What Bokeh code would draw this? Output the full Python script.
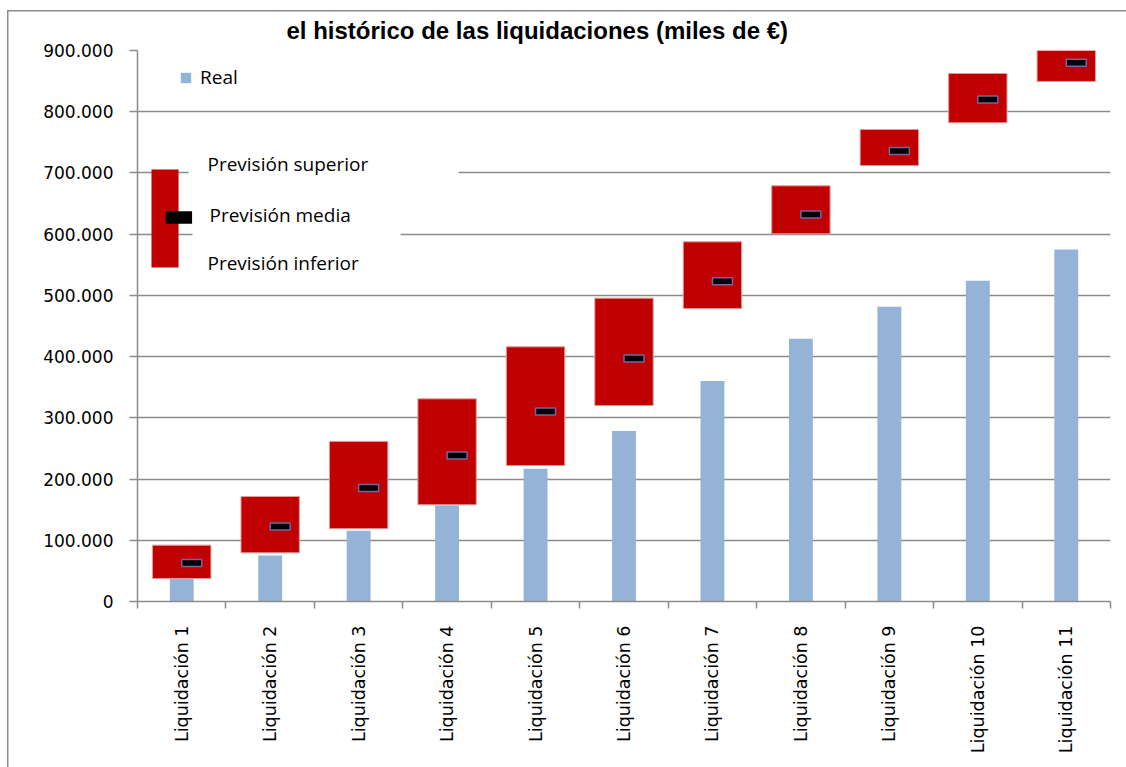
import math
from bokeh.plotting import figure
from bokeh.models import (Range1d, FixedTicker, ColumnDataSource, Legend, LegendItem,
                          Label, BoxAnnotation)
from bokeh.transform import dodge
from bokeh.embed import file_html
from bokeh.resources import INLINE

# ---------------- data ----------------
categories = ["Liquidación 1", "Liquidación 2", "Liquidación 3", "Liquidación 4",
              "Liquidación 5", "Liquidación 6", "Liquidación 7", "Liquidación 8",
              "Liquidación 9", "Liquidación 10", "Liquidación 11"]
real = [38000, 75000, 115500, 157000, 217000, 278500, 360000, 429000, 481500, 524000, 575000]
prevision_superior = [92000, 171500, 261500, 331000, 416000, 495500, 587500, 679000, 771000, 862500, 915000]
prevision_inferior = [37500, 79500, 119000, 158000, 222000, 320000, 478500, 600500, 712000, 782000, 849500]
prevision_media = [63000, 122500, 185500, 238500, 310500, 397000, 523000, 632000, 736000, 820000, 880000]
y_ticks = [0, 100000, 200000, 300000, 400000, 500000, 600000, 700000, 800000, 900000]
y_tick_labels = ["0", "100.000", "200.000", "300.000", "400.000", "500.000",
                 "600.000", "700.000", "800.000", "900.000"]
title_text = "el histórico de las liquidaciones (miles de €)"

GRID = "#8c8c8c"

x_centers = [i + 0.5 for i in range(len(categories))]
src = ColumnDataSource(dict(x=x_centers, real=real, sup=prevision_superior,
                            inf=prevision_inferior, media=prevision_media))

p = figure(width=1126, height=767, output_backend="svg", toolbar_location=None,
           x_range=Range1d(0, len(categories)), y_range=Range1d(0, 900000),
           min_border_left=137, min_border_right=16, min_border_top=50, min_border_bottom=166,
           border_fill_color=None, outline_line_color=None,
           title=title_text,
           styles={"background": "linear-gradient(#8c8c8c,#8c8c8c) 7px 10px / 1.5px 100% no-repeat, "
                                 "linear-gradient(#8c8c8c,#8c8c8c) 7px 10px / 100% 1.5px no-repeat, white"})

# title (cropped at the top in the reference, here fully visible)
p.title.align = "left"
p.title.offset = 149
p.title.vertical_align = "top"
p.title.standoff = 10
p.title.text_font = "Liberation Sans"
p.title.text_font_style = "bold"
p.title.text_font_size = "24px"
p.title.text_color = "black"
p.title.background_fill_color = "white"

# axes
p.yaxis.ticker = FixedTicker(ticks=y_ticks)
p.yaxis.major_label_overrides = {t: l for t, l in zip(y_ticks, y_tick_labels)}
p.yaxis.axis_line_color = GRID
p.yaxis.axis_line_width = 1.5
p.yaxis.major_tick_line_color = GRID
p.yaxis.major_tick_line_width = 1.5
p.yaxis.major_tick_out = 8
p.yaxis.major_tick_in = 0
p.yaxis.minor_tick_line_color = None
p.yaxis.major_label_standoff = 16
p.yaxis.major_label_text_font = "DejaVu Sans"
p.yaxis.major_label_text_font_size = "17px"
p.yaxis.major_label_text_color = "black"

p.xaxis.ticker = FixedTicker(ticks=x_centers, minor_ticks=list(range(len(categories) + 1)))
p.xaxis.major_label_overrides = {x: c for x, c in zip(x_centers, categories)}
p.xaxis.axis_line_color = GRID
p.xaxis.axis_line_width = 1.5
p.xaxis.major_tick_out = 0
p.xaxis.major_tick_in = 0
p.xaxis.major_tick_line_color = None
p.xaxis.minor_tick_out = 7
p.xaxis.minor_tick_in = 0
p.xaxis.minor_tick_line_color = GRID
p.xaxis.minor_tick_line_width = 1.5
p.xaxis.major_label_orientation = math.pi / 2
p.xaxis.major_label_standoff = 17
p.xaxis.major_label_text_font = "DejaVu Sans"
p.xaxis.major_label_text_font_size = "17.5px"
p.xaxis.major_label_text_color = "black"

p.xgrid.visible = False
p.ygrid.grid_line_color = GRID
p.ygrid.grid_line_width = 1.5

# glyphs
bars = p.vbar(x="x", top="real", width=0.27, source=src,
              fill_color="#95B3D7", line_color=None)
p.vbar(x="x", bottom="inf", top="sup", width=0.66, source=src,
       fill_color="#C00000", line_color="#e59a9a", line_width=1)
p.rect(x=dodge("x", 0.113, range=p.x_range), y="media", width=20, height=7,
       width_units="screen", height_units="screen", source=src,
       fill_color="black", line_color="#7565a5", line_width=1.5)

# legend "Real"
legend = Legend(items=[LegendItem(label="Real", renderers=[bars])],
                location=(42, 511), padding=0, margin=0, spacing=0,
                glyph_width=13, glyph_height=13, label_height=13, label_standoff=8,
                label_text_font="Open Sans", label_text_font_size="19px",
                label_text_color="black", label_text_baseline="middle",
                border_line_color=None, background_fill_alpha=0)
p.add_layout(legend, "center")

# forecast legend diagram
p.add_layout(BoxAnnotation(left=0.577, right=3.629, bottom=687700, top=736700,
                           fill_color="white", fill_alpha=1, line_color=None))
p.add_layout(BoxAnnotation(left=0.622, right=2.973, bottom=586400, top=655000,
                           fill_color="white", fill_alpha=1, line_color=None))
p.add_layout(BoxAnnotation(left=0.158, right=0.464, bottom=545600, top=705600,
                           fill_color="#C00000", fill_alpha=1, line_color=None))
p.add_layout(BoxAnnotation(left=0.320, right=0.617, bottom=617000, top=637500,
                           fill_color="black", fill_alpha=1, line_color=None))
for txt, lx, ly in [("Previsión superior", 0.791, 715400),
                    ("Previsión media", 0.814, 632100),
                    ("Previsión inferior", 0.791, 552100)]:
    p.add_layout(Label(x=lx, y=ly, text=txt, text_baseline="middle", text_align="left",
                       text_font="Open Sans", text_font_size="19px", text_color="black"))

open("out.html", "w").write(file_html(p, INLINE))
